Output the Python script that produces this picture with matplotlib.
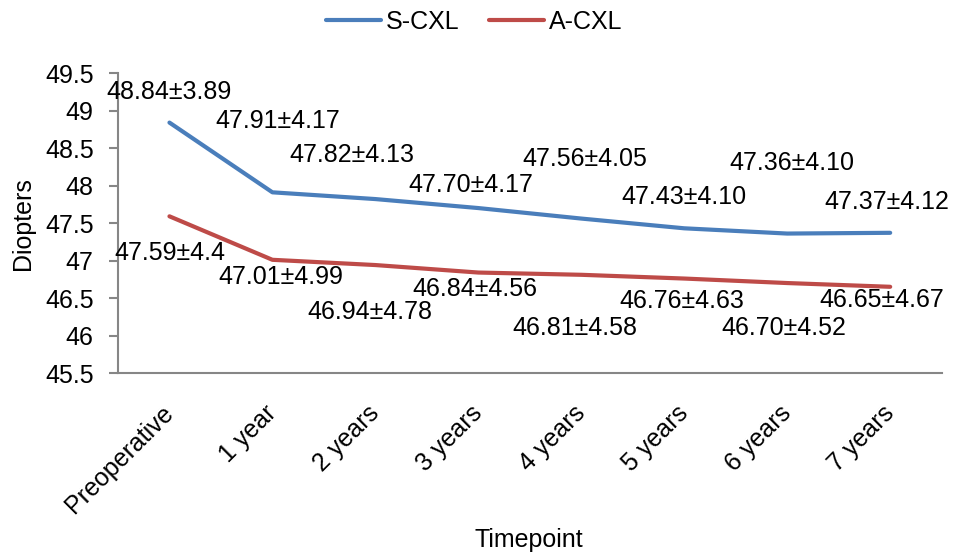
import numpy as np
import matplotlib.pyplot as plt
import matplotlib.transforms as mtransforms

plt.rcParams['font.family'] = ['Liberation Sans', 'DejaVu Sans']

timepoints = ['Preoperative', '1 year', '2 years', '3 years', '4 years', '5 years', '6 years', '7 years']
s_cxl = [48.84, 47.91, 47.82, 47.70, 47.56, 47.43, 47.36, 47.37]
s_sd = ['3.89', '4.17', '4.13', '4.17', '4.05', '4.10', '4.10', '4.12']
a_cxl = [47.59, 47.01, 46.94, 46.84, 46.81, 46.76, 46.70, 46.65]
a_sd = ['4.4', '4.99', '4.78', '4.56', '4.58', '4.63', '4.52', '4.67']

# label offsets in pixels (dx, dy), picked by eye
s_off = [(0, 31), (5, 71), (-23, 44), (-8, 23), (4, 60), (0, 31), (5, 71), (-3, 31)]
a_off = [(0, -37), (8, -17), (-5, -47), (-3, -16), (-6, -53), (-2, -22), (-3, -45), (-8, -13)]

fig = plt.figure(figsize=(9.56, 5.58), dpi=100)
ax = fig.add_axes([0.1234, 0.3315, 0.8616, 0.5375])

x = np.arange(len(timepoints))
blue = '#4a7ebb'
red = '#be4b48'
ax.plot(x, s_cxl, color=blue, linewidth=3, label='S-CXL', solid_capstyle='round')
ax.plot(x, a_cxl, color=red, linewidth=3, label='A-CXL', solid_capstyle='round')

fs = 18
for i in range(len(x)):
    ax.annotate(f'{s_cxl[i]:.2f}\u00b1{s_sd[i]}', (x[i], s_cxl[i]), xytext=s_off[i],
                textcoords='offset pixels', ha='center', va='center', fontsize=fs)
    ax.annotate(f'{a_cxl[i]:.2f}\u00b1{a_sd[i]}', (x[i], a_cxl[i]), xytext=a_off[i],
                textcoords='offset pixels', ha='center', va='center', fontsize=fs)

ax.set_xlim(-0.5, len(x) - 0.5)
ax.set_ylim(45.5, 49.5)
yt = np.arange(45.5, 49.51, 0.5)
ax.set_yticks(yt)
ax.set_yticklabels([f'{v:g}' for v in yt], fontsize=fs)
ax.set_xticks(x)
ax.set_xticklabels(timepoints, rotation=45, ha='right', va='center', rotation_mode='anchor', fontsize=fs)
shift = mtransforms.ScaledTranslation(16 / 100, 0, fig.dpi_scale_trans)
for lab in ax.get_xticklabels():
    lab.set_transform(lab.get_transform() + shift)
ax.tick_params(axis='x', length=0, pad=26)
ax.tick_params(axis='y', length=6.5, color='#868686', width=1.5, pad=11)

for s in ['top', 'right']:
    ax.spines[s].set_visible(False)
for s in ['left', 'bottom']:
    ax.spines[s].set_color('#868686')
    ax.spines[s].set_linewidth(1.5)

ax.set_ylabel('Diopters', fontsize=fs, va='center')
ax.yaxis.set_label_coords(0.024, 0.6, transform=fig.transFigure)
ax.set_xlabel('Timepoint', fontsize=fs, va='center')
ax.xaxis.set_label_coords(0.553, 0.032, transform=fig.transFigure)

fig.legend(loc='upper center', bbox_to_anchor=(0.496, 1.022), ncol=2, frameon=False,
           fontsize=fs, handlelength=2.2, handletextpad=0.2, columnspacing=1.2)

fig.savefig('out.png', dpi=100)
